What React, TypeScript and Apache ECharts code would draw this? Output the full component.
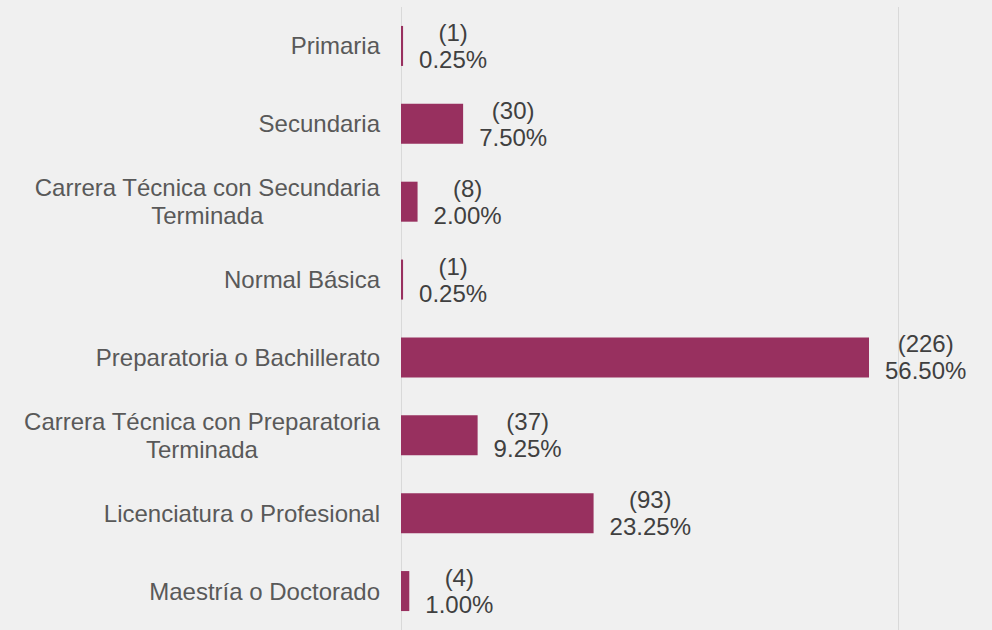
import React, { useEffect, useRef } from "react";
import * as echarts from "echarts";

const categories: string[] = [
  "Primaria",
  "Secundaria",
  "Carrera Técnica con Secundaria\nTerminada",
  "Normal Básica",
  "Preparatoria o Bachillerato",
  "Carrera Técnica con Preparatoria\nTerminada",
  "Licenciatura o Profesional",
  "Maestría o Doctorado",
];
const counts: number[] = [1, 30, 8, 1, 226, 37, 93, 4];
const percents: number[] = [0.25, 7.5, 2.0, 0.25, 56.5, 9.25, 23.25, 1.0];

const FONT = "'Liberation Sans', Arial, sans-serif";

export default function App() {
  const ref = useRef<HTMLDivElement>(null);
  useEffect(() => {
    document.body.style.margin = "0";
    const chart = echarts.init(ref.current!, undefined, { renderer: "svg" });
    chart.setOption({
      animation: false,
      backgroundColor: "#f0f0f0",
      grid: { left: 401, width: 497, top: 7, height: 627 },
      xAxis: {
        type: "value",
        min: 0,
        max: 60,
        interval: 60,
        axisLabel: { show: false },
        axisLine: { show: false },
        axisTick: { show: false },
        splitLine: { show: true, lineStyle: { color: "#d9d9d9", width: 1 } },
      },
      yAxis: {
        type: "category",
        inverse: true,
        data: categories,
        axisLine: { show: false },
        axisTick: { show: false },
        axisLabel: {
          margin: 21,
          fontSize: 24,
          fontFamily: FONT,
          color: "#595959",
          lineHeight: 28,
          formatter: (v: string) =>
            v
              .split("\n")
              .map((l) => `{c|${l}}`)
              .join("\n"),
          rich: {
            c: {
              align: "center",
              fontSize: 24,
              fontFamily: FONT,
              color: "#595959",
              lineHeight: 28,
            },
          },
        },
      },
      series: [
        {
          type: "bar",
          data: percents,
          barWidth: 40,
          itemStyle: { color: "#98305f" },
          label: {
            show: true,
            position: "right",
            distance: 16,
            fontSize: 24,
            fontFamily: FONT,
            color: "#404040",
            lineHeight: 27,
            formatter: (p: any) =>
              `{a|(${counts[p.dataIndex]})}\n{a|${percents[p.dataIndex].toFixed(2)}%}`,
            rich: {
              a: {
                align: "center",
                fontSize: 24,
                fontFamily: FONT,
                color: "#404040",
                lineHeight: 27,
              },
            },
          },
        },
      ],
    });
    return () => chart.dispose();
  }, []);
  return (
    <div
      ref={ref}
      style={{ position: "fixed", left: 0, top: 0, width: 992, height: 630 }}
    />
  );
}
